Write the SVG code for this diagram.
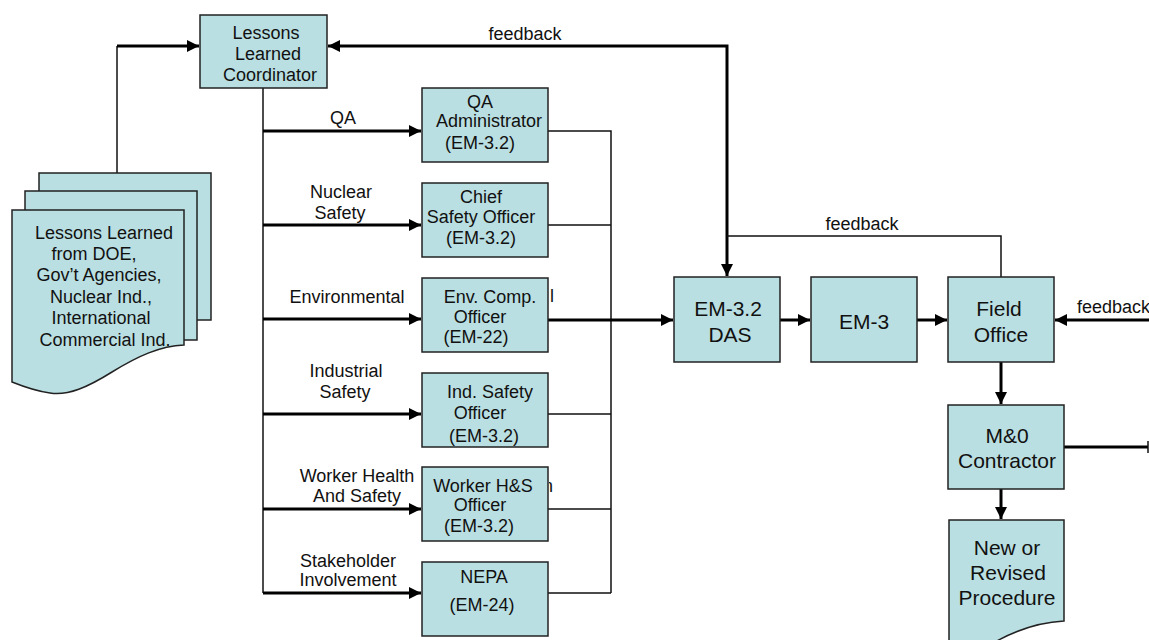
<svg xmlns="http://www.w3.org/2000/svg" width="1149" height="640" viewBox="0 0 1149 640">
<style>
.box{fill:#BADFE2;stroke:#222;stroke-width:1.5}
.t{font-family:"Liberation Sans",Arial,sans-serif;font-size:18px;fill:#111;text-anchor:middle}
.tl{font-family:"Liberation Sans",Arial,sans-serif;font-size:21px;fill:#111;text-anchor:middle}
.thin{fill:none;stroke:#111;stroke-width:1.5}
.thick{fill:none;stroke:#000;stroke-width:3}
</style>
<defs>
<marker id="ah" markerUnits="userSpaceOnUse" markerWidth="13" markerHeight="12" refX="12" refY="6" orient="auto-start-reverse">
<path d="M0,0 L12,6 L0,12 z" fill="#000"/>
</marker>
<clipPath id="clipN"><rect x="549" y="470" width="20" height="30"/></clipPath>
</defs>
<rect width="1149" height="640" fill="#fff"/>

<g id="connectors">
<path class="thin" d="M117,173 V46"/>
<path class="thick" d="M117,46 H199" marker-end="url(#ah)"/>
<path class="thick" d="M328,46 H727 V276" marker-start="url(#ah)" marker-end="url(#ah)"/>
<path class="thin" d="M727,236 H1001 V277"/>
<path class="thin" d="M263,88 V593"/>
<path class="thick" d="M263,131 H421" marker-end="url(#ah)"/>
<path class="thick" d="M263,225 H421" marker-end="url(#ah)"/>
<path class="thick" d="M263,319 H421" marker-end="url(#ah)"/>
<path class="thick" d="M263,414 H421" marker-end="url(#ah)"/>
<path class="thick" d="M263,509 H421" marker-end="url(#ah)"/>
<path class="thick" d="M263,593 H421" marker-end="url(#ah)"/>
<path class="thin" d="M548,131 H611 V593 M548,225 H611 M548,414 H611 M548,509 H611 M548,593 H611"/>
<path class="thick" d="M548,320 H673" marker-end="url(#ah)"/>
<path class="thick" d="M780,320 H810" marker-end="url(#ah)"/>
<path class="thick" d="M917,320 H947" marker-end="url(#ah)"/>
<path class="thick" d="M1149,320 H1055" marker-end="url(#ah)"/>
<path class="thick" d="M1001,362 V404" marker-end="url(#ah)"/>
<path class="thick" d="M1001,489 V519" marker-end="url(#ah)"/>
<path class="thick" d="M1064,447 H1148"/>
<path class="thin" d="M1148,441 V453"/>
<text class="t" x="525" y="40">feedback</text>
<text class="t" x="862" y="230">feedback</text>
<text class="t" x="1077" y="313" style="text-anchor:start">feedback</text>
<text class="t" x="343" y="124">QA</text>
<text class="t" x="341" y="198">Nuclear</text>
<text class="t" x="340" y="219">Safety</text>
<text class="t" x="347" y="303">Environmental</text>
<text class="t" x="346" y="377">Industrial</text>
<text class="t" x="345" y="398">Safety</text>
<text class="t" x="357" y="482">Worker Health</text>
<text class="t" x="357" y="502">And Safety</text>
<text class="t" x="348" y="567">Stakeholder</text>
<text class="t" x="348" y="586">Involvement</text>
</g>

<g id="lessons-learned-docs">
<rect class="box" x="39" y="173" width="172" height="147"/>
<rect class="box" x="25" y="191" width="172" height="149"/>
<path class="box" d="M12,210 H184 V345 C160,346 138,356 112,372 C88,387 68,396 50,393 C35,391 22,386 12,382 Z"/>
<text class="t" x="104" y="239">Lessons Learned</text>
<text class="t" x="94" y="260">from DOE,</text>
<text class="t" x="99" y="281">Gov’t Agencies,</text>
<text class="t" x="101" y="303">Nuclear Ind.,</text>
<text class="t" x="101" y="324">International</text>
<text class="t" x="105" y="346">Commercial Ind.</text>
</g>

<g id="coordinator">
<rect class="box" x="200" y="15" width="127" height="73"/>
<text class="t" x="266" y="39">Lessons</text>
<text class="t" x="268" y="60">Learned</text>
<text class="t" x="270" y="81">Coordinator</text>
</g>

<g id="qa-admin">
<rect class="box" x="422" y="88" width="126" height="74"/>
<text class="t" x="480" y="108">QA</text>
<text class="t" x="489" y="127">Administrator</text>
<text class="t" x="480" y="149">(EM-3.2)</text>
</g>

<g id="chief-safety">
<rect class="box" x="422" y="183" width="126" height="74"/>
<text class="t" x="481" y="203">Chief</text>
<text class="t" x="481" y="223">Safety Officer</text>
<text class="t" x="481" y="244">(EM-3.2)</text>
</g>

<g id="env-comp">
<text class="t" x="552" y="302">l</text>
<rect class="box" x="422" y="278" width="126" height="74"/>
<text class="t" x="490" y="303">Env. Comp.</text>
<text class="t" x="480" y="323">Officer</text>
<text class="t" x="476" y="343">(EM-22)</text>
</g>

<g id="ind-safety">
<rect class="box" x="422" y="373" width="126" height="74"/>
<text class="t" x="490" y="398">Ind. Safety</text>
<text class="t" x="480" y="419">Officer</text>
<text class="t" x="484" y="442">(EM-3.2)</text>
</g>

<g id="worker-hs">
<text class="t" x="548" y="492" clip-path="url(#clipN)">n</text>
<rect class="box" x="422" y="467" width="126" height="74"/>
<text class="t" x="483" y="492">Worker H&amp;S</text>
<text class="t" x="480" y="511">Officer</text>
<text class="t" x="479" y="532">(EM-3.2)</text>
</g>

<g id="nepa">
<rect class="box" x="422" y="562" width="126" height="74"/>
<text class="t" x="484" y="583">NEPA</text>
<text class="t" x="482" y="611">(EM-24)</text>
</g>

<g id="das">
<rect class="box" x="674" y="277" width="106" height="85"/>
<text class="tl" x="728" y="316">EM-3.2</text>
<text class="tl" x="730" y="342">DAS</text>
</g>

<g id="em3">
<rect class="box" x="811" y="277" width="106" height="85"/>
<text class="tl" x="864" y="329">EM-3</text>
</g>

<g id="field-office">
<rect class="box" x="948" y="277" width="106" height="85"/>
<text class="tl" x="999" y="316">Field</text>
<text class="tl" x="1001" y="342">Office</text>
</g>

<g id="mo-contractor">
<rect class="box" x="948" y="405" width="116" height="84"/>
<text class="tl" x="1007" y="443">M&amp;0</text>
<text class="tl" x="1007" y="468">Contractor</text>
</g>

<g id="new-procedure">
<path class="box" d="M949,520 H1064 V621 C1045,622 1020,628 995,642 L949,642 Z"/>
<text class="tl" x="1007" y="555">New or</text>
<text class="tl" x="1008" y="580">Revised</text>
<text class="tl" x="1007" y="605">Procedure</text>
</g>
</svg>
